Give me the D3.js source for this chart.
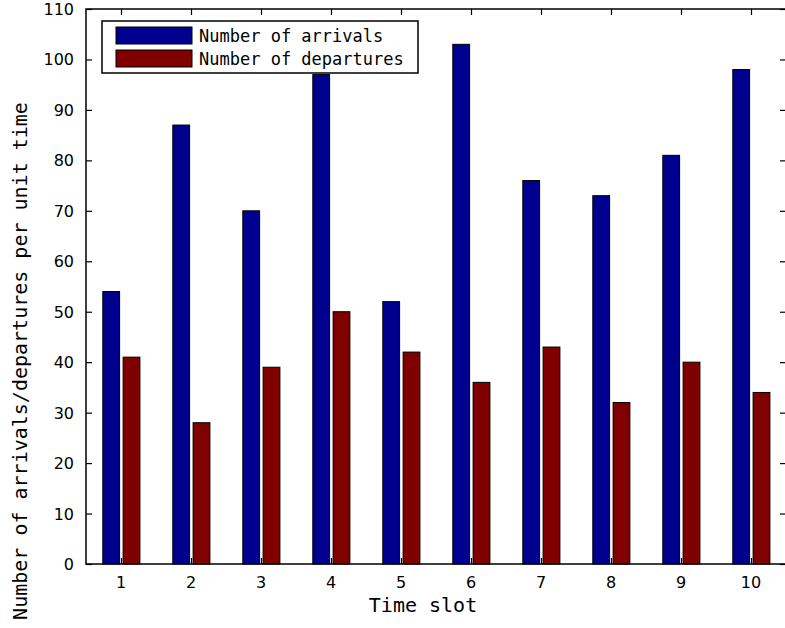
<!DOCTYPE html>
<html lang="en">
<head>
<meta charset="UTF-8">
<title>Arrivals and departures per time slot</title>
<script src="https://d3js.org/d3.v7.min.js"></script>
<style>
  body { margin: 0; background: #fff; }
  svg { display: block; }
</style>
</head>
<body>
<svg width="785" height="628"></svg>
<script>
// Chart data
const slots = [1, 2, 3, 4, 5, 6, 7, 8, 9, 10];
const arrivals = [54, 87, 70, 97, 52, 103, 76, 73, 81, 98];
const departures = [41, 28, 39, 50, 42, 36, 43, 32, 40, 34];
const seriesNames = ["Number of arrivals", "Number of departures"];
const yTicks = [0, 10, 20, 30, 40, 50, 60, 70, 80, 90, 100, 110];

const colors = ["#00008f", "#800000"];
const mono = "'DejaVu Sans Mono', monospace";
const sans = "'DejaVu Sans', sans-serif";

// Plot box
const plotLeft = 86, plotRight = 786, plotTop = 9, plotBottom = 564;

const svg = d3.select("svg");

const x = d3.scaleLinear().domain([0.5, 10.5]).range([plotLeft, plotRight]);
const y = d3.scaleLinear().domain([0, 110]).range([plotBottom, plotTop]);

// Bars: each group has two bars side by side
const barW = 0.24;
const offsets = [-0.26, 0.03];
const series = [arrivals, departures];

series.forEach((vals, s) => {
  svg.append("g")
    .selectAll("rect")
    .data(slots)
    .enter()
    .append("rect")
    .attr("x", d => x(d + offsets[s]))
    .attr("width", x(barW) - x(0))
    .attr("y", (d, i) => y(vals[i]))
    .attr("height", (d, i) => y(0) - y(vals[i]))
    .attr("fill", colors[s])
    .attr("stroke", "#000")
    .attr("stroke-width", 1);
});

// Frame
svg.append("rect")
  .attr("x", plotLeft).attr("y", plotTop)
  .attr("width", plotRight - plotLeft).attr("height", plotBottom - plotTop)
  .attr("fill", "none").attr("stroke", "#000").attr("stroke-width", 1.5);

// Axes with inward ticks (MATLAB style)
svg.append("g")
  .attr("transform", `translate(${plotLeft},0)`)
  .call(d3.axisRight(y).tickValues(yTicks).tickSize(6).tickFormat(""))
  .select(".domain").remove();

svg.append("g")
  .attr("transform", `translate(${plotRight},0)`)
  .call(d3.axisLeft(y).tickValues(yTicks).tickSize(6).tickFormat(""))
  .select(".domain").remove();

svg.append("g")
  .attr("transform", `translate(0,${plotBottom})`)
  .call(d3.axisTop(x).tickValues(slots).tickSize(6).tickFormat(""))
  .select(".domain").remove();

svg.append("g")
  .attr("transform", `translate(0,${plotTop})`)
  .call(d3.axisBottom(x).tickValues(slots).tickSize(6).tickFormat(""))
  .select(".domain").remove();

svg.selectAll(".tick line").attr("stroke", "#000").attr("stroke-width", 1.2);

// Tick labels
svg.append("g")
  .selectAll("text")
  .data(yTicks)
  .enter()
  .append("text")
  .attr("x", plotLeft - 12)
  .attr("y", d => y(d) + 6)
  .attr("text-anchor", "end")
  .style("font-family", sans)
  .style("font-size", "16px")
  .text(d => d);

svg.append("g")
  .selectAll("text")
  .data(slots)
  .enter()
  .append("text")
  .attr("x", d => x(d))
  .attr("y", 588)
  .attr("text-anchor", "middle")
  .style("font-family", sans)
  .style("font-size", "16px")
  .text(d => d);

// Axis titles
svg.append("text")
  .attr("x", 423)
  .attr("y", 612)
  .attr("text-anchor", "middle")
  .style("font-family", mono)
  .style("font-size", "20px")
  .text("Time slot");

svg.append("text")
  .attr("transform", "translate(27,361) rotate(-90)")
  .attr("text-anchor", "middle")
  .style("font-family", mono)
  .style("font-size", "20px")
  .text("Number of arrivals/departures per unit time");

// Legend
const legend = svg.append("g");
legend.append("rect")
  .attr("x", 102).attr("y", 21)
  .attr("width", 316).attr("height", 52)
  .attr("fill", "#fff").attr("stroke", "#000").attr("stroke-width", 1.5);

const items = legend.selectAll(".item")
  .data(seriesNames)
  .enter()
  .append("g")
  .attr("transform", (d, i) => `translate(0, ${i * 23})`);

items.append("rect")
  .attr("x", 116).attr("y", 27)
  .attr("width", 76).attr("height", 17)
  .attr("fill", (d, i) => colors[i])
  .attr("stroke", "#000");

items.append("text")
  .attr("x", 199)
  .attr("y", 42)
  .style("font-family", mono)
  .style("font-size", "17px")
  .text(d => d);
</script>
</body>
</html>
